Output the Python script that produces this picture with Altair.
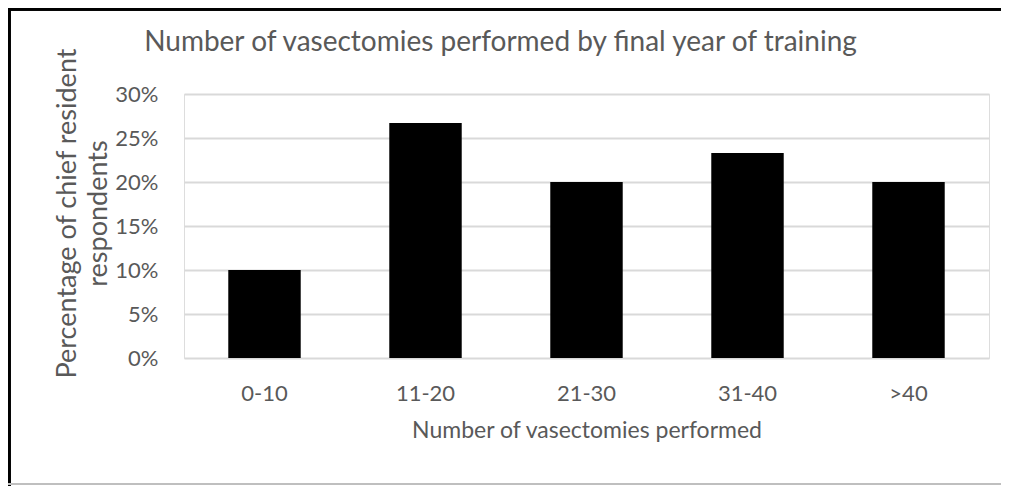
import altair as alt
import pandas as pd

categories = ["0-10", "11-20", "21-30", "31-40", ">40"]
percentages = [0.10, 0.267, 0.20, 0.233, 0.20]

df = pd.DataFrame({"range": categories, "pct": percentages})

FONT = "Lato"
GREY = "#595959"

bars = alt.Chart(df).mark_bar(color="black", stroke=None).encode(
    x=alt.X("range:N", sort=categories, title="Number of vasectomies performed",
            scale=alt.Scale(paddingInner=0.55, paddingOuter=0.275),
            axis=alt.Axis(labelAngle=0, labelFontSize=22, labelColor=GREY, labelFont=FONT,
                          labelPadding=25, ticks=False, domain=False,
                          titleFontSize=23, titleColor=GREY, titleFont=FONT,
                          titleFontWeight="normal", titlePadding=15)),
    y=alt.Y("pct:Q", title=["Percentage of chief resident", "respondents"],
            scale=alt.Scale(domain=[0, 0.30], nice=False),
            axis=alt.Axis(format=".0%", values=[0, 0.05, 0.10, 0.15, 0.20, 0.25, 0.30],
                          labelFontSize=22, labelColor=GREY, labelFont=FONT, labelPadding=26,
                          ticks=False, domain=False, gridColor="#d9d9d9", gridWidth=2,
                          titleFontSize=27, titleColor=GREY, titleFont=FONT,
                          titleFontWeight="normal", titlePadding=2, titleLineHeight=31,
                          titleY=119)),
)

frame_left = alt.Chart(df).mark_rule(color="black", strokeWidth=3).encode(
    x=alt.value(-175), y=alt.value(-86), y2=alt.value(392))
frame_top = alt.Chart(df).mark_rule(color="black", strokeWidth=3).encode(
    x=alt.value(-176), x2=alt.value(820), y=alt.value(-85))
frame_bottom = alt.Chart(df).mark_rule(color="#bfbfbf", strokeWidth=2).encode(
    x=alt.value(-176), x2=alt.value(820), y=alt.value(390))

chart = alt.layer(frame_left, frame_top, frame_bottom, bars).properties(
    width=805, height=264,
    autosize=alt.AutoSizeParams(type="none"),
    padding={"left": 176, "top": 86, "right": 12, "bottom": 128},
    title=alt.TitleParams("Number of vasectomies performed by final year of training",
                          fontSize=28, color=GREY, font=FONT, fontWeight="normal",
                          anchor="middle", dx=-86, dy=50, offset=0),
).configure_view(stroke="black", strokeWidth=2).configure(background="white")

chart.save("out.html", embed_options={"renderer": "svg", "actions": False})
